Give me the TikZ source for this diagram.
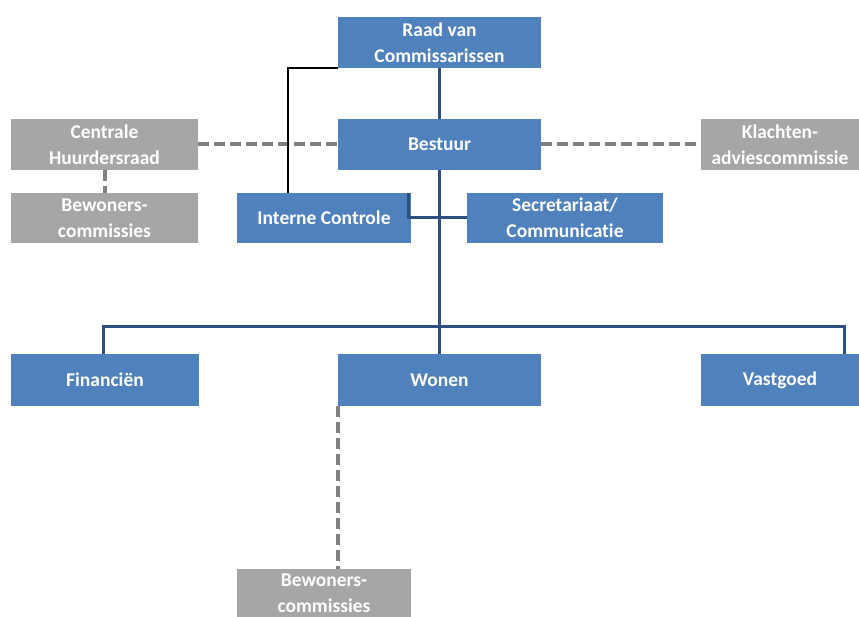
\documentclass[tikz,border=0pt]{standalone}
\usepackage{fontspec}
\setmainfont{Carlito}[Ligatures=NoCommon]
\definecolor{boxblue}{HTML}{4F81BD}
\definecolor{boxgray}{HTML}{A6A6A6}
\definecolor{linkblue}{HTML}{2B4F80}
\definecolor{dashgray}{HTML}{808080}
\begin{document}
\begin{tikzpicture}[x=1pt, y=-1pt]
\useasboundingbox (0,0) rectangle (859,617);
\tikzstyle{org}=[rectangle, fill=boxblue, text=white, align=center, inner sep=0pt,
                        minimum height=51pt, font=\fontsize{19.5}{26}\selectfont\bfseries]
\tikzstyle{adv}=[org, fill=boxgray]
\tikzstyle{lnk}=[draw=linkblue, line width=3pt]
\tikzstyle{dsh}=[draw=dashgray, line width=4pt, dash pattern=on 11pt off 5pt]
\node[org, minimum width=203pt](raad) at (439.5,42.5){Raad van\\Commissarissen};
\node[org, minimum width=203pt](bestuur) at (439.5,144.5){Bestuur};
\node[adv, minimum width=187pt](chr) at (104.5,144.5){Centrale\\Huurdersraad};
\node[adv, minimum width=158pt](kac) at (780,144.5){Klachten-\\adviescommissie};
\node[adv, minimum width=187pt, minimum height=50pt](bc1) at (104.5,218){Bewoners-\\commissies};
\node[org, minimum width=174pt, minimum height=50pt](ic) at (324,218){Interne Controle};
\node[org, minimum width=196pt, minimum height=50pt](sc) at (565,218){Secretariaat/\\Communicatie};
\node[org, minimum width=188pt](fin) at (105,380){Financiën};
\node[org, minimum width=203pt](wonen) at (439.5,380){Wonen};
\node[org, minimum width=158pt](vg) at (780,380){Vastgoed};
\node[adv, minimum width=174pt, minimum height=48pt](bc2) at (324,593){Bewoners-\\commissies};
\coordinate (bus) at (439.5,327);
% advies (gestippeld)
\foreach \i/\j in {chr/bestuur,bestuur/kac,chr/bc1}{\draw[dsh] (\i) -- (\j);}
\draw[dsh] (wonen.south west) -- (wonen.south west |- bc2.north);
% hierarchie
\draw[black, line width=2pt] (raad.south west) -| ([xshift=51pt]ic.north west);
\draw[lnk] (raad) -- (bestuur);
\draw[lnk] (bestuur) -- (wonen);
\draw[lnk] ([xshift=-3pt]ic.north east) |- (sc.west);
\draw[lnk] ([xshift=-2pt]fin.north) |- (bus) -| ([xshift=64pt]vg.north);
\end{tikzpicture}
\end{document}
